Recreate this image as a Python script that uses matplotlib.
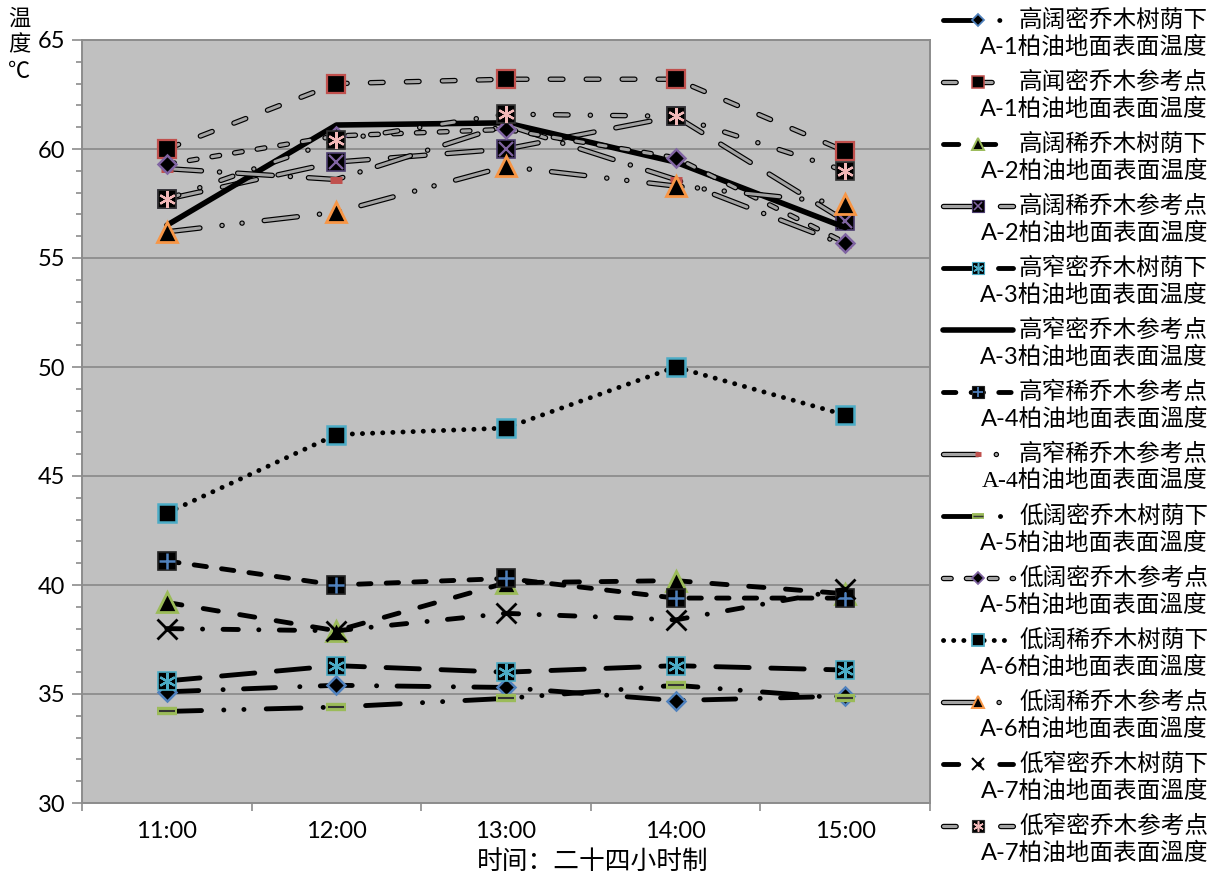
import matplotlib.pyplot as plt
import matplotlib.patheffects as pe
import numpy as np

plt.rcParams['font.family'] = ['Lato', 'Noto Sans CJK SC', 'DejaVu Sans']
plt.rcParams['lines.scale_dashes'] = False

hours = ['11:00', '12:00', '13:00', '14:00', '15:00']

# 各测点地面温度 (℃)
a1_shade = [35.1, 35.4, 35.3, 34.7, 34.9]
a1_ref = [60.0, 63.0, 63.2, 63.2, 59.9]
a2_shade = [39.2, 37.9, 40.1, 40.2, 39.6]
a2_ref = [57.7, 59.4, 60.0, 61.5, 56.7]
a3_shade = [35.6, 36.3, 36.0, 36.3, 36.1]
a3_ref = [56.5, 61.1, 61.2, 59.4, 56.4]
a4_shade = [41.1, 40.0, 40.3, 39.4, 39.4]
a4_ref = [59.1, 58.6, 61.1, 58.6, 55.6]
a5_shade = [34.2, 34.4, 34.8, 35.4, 34.8]
a5_ref = [59.3, 60.6, 60.9, 59.6, 55.7]
a6_shade = [43.3, 46.9, 47.2, 50.0, 47.8]
a6_ref = [56.2, 57.1, 59.2, 58.3, 57.5]
a7_shade = [38.0, 37.9, 38.7, 38.4, 39.8]
a7_ref = [57.7, 60.4, 61.6, 61.5, 59.0]

series = [a1_shade, a1_ref, a2_shade, a2_ref, a3_shade, a3_ref, a4_shade,
          a4_ref, a5_shade, a5_ref, a6_shade, a6_ref, a7_shade, a7_ref]

label_top = ['高阔密乔木树荫下', '高闻密乔木参考点', '高阔稀乔木树荫下', '高阔稀乔木参考点',
             '高窄密乔木树荫下', '高窄密乔木参考点', '高窄稀乔木参考点', '高窄稀乔木参考点',
             '低阔密乔木树荫下', '低阔密乔木参考点', '低阔稀乔木树荫下', '低阔稀乔木参考点',
             '低窄密乔木树荫下', '低窄密乔木参考点']
label_bottom = ['A-1柏油地面表面温度', 'A-1柏油地面表面温度', 'A-2柏油地面表面温度',
                'A-2柏油地面表面温度', 'A-3柏油地面表面温度', 'A-3柏油地面表面温度',
                'A-4柏油地面表面溫度', 'A-4柏油地面表面温度', 'A-5柏油地面表面溫度',
                'A-5柏油地面表面溫度', 'A-6柏油地面表面溫度', 'A-6柏油地面表面溫度',
                'A-7柏油地面表面溫度', 'A-7柏油地面表面溫度']

BLUE, RED, GREEN = '#4F81BD', '#C0504D', '#9BBB59'
PURPLE, AQUA, ORANGE, PINK = '#8064A2', '#4BACC6', '#F79646', '#F2B8B8'
ASTER = (6, 2, 0)

# 线型: kind, dashes (pt), marker layers (marker, size, face, edge, edge width)
styles = [
    ('black', [23, 17.5, 0.1, 14.7], [('D', 9.2, 'black', BLUE, 1.8)]),
    ('pill', [9.1, 16.8], [('s', 13, 'black', RED, 1.6)]),
    ('black', [11, 15.6], [('^', 15, 'black', GREEN, 2)]),
    ('pill', [25, 16], [('s', 13, 'black', '#4b3b6e', 1.2), ('x', 10, 'none', PURPLE, 1.6)]),
    ('black', [24, 15.6], [('s', 13, 'black', AQUA, 1.2), (ASTER, 12, 'none', AQUA, 1.6)]),
    ('solid', None, []),
    ('black', [8.9, 11], [('s', 13, 'black', '#222222', 1.2), ('+', 11, 'none', BLUE, 1.8)]),
    ('pill', [25, 13, 0.1, 13], [('_', 8, 'none', RED, 5)]),
    ('black', [25, 16, 0.1, 14.4, 0.1, 16], [('_', 14, 'none', GREEN, 6), ('_', 11, 'none', '#333333', 1.5)]),
    ('pill', [5.5, 11], [('D', 9.2, 'black', PURPLE, 1.8)]),
    ('black', [0.1, 7.2], [('s', 13, 'black', AQUA, 1.8)]),
    ('pill', [24, 16, 0.1, 14.4, 0.1, 16], [('^', 15, 'black', ORANGE, 2)]),
    ('black', [11, 14.7, 0.1, 14.7], [('x', 14, 'none', 'black', 2)]),
    ('pill', [9.1, 16, 0.1, 16], [('s', 13, 'black', '#333333', 1.2), (ASTER, 12, 'none', PINK, 1.6)]),
]


def draw_line(ax, x, y, kind, dashes, z):
    if kind == 'solid':
        ax.plot(x, y, color='black', lw=4, solid_capstyle='round', zorder=z)
    elif kind == 'black':
        ax.plot(x, y, color='black', lw=3.5, dashes=dashes,
                dash_capstyle='round', zorder=z)
    else:
        ax.plot(x, y, color='#A3A3A3', lw=2.2, dashes=dashes,
                dash_capstyle='round', zorder=z,
                path_effects=[pe.Stroke(linewidth=3.9, foreground='black'), pe.Normal()])


def draw_marks(ax, x, y, layers, z, scale=1.0, every=None):
    for m, size, face, edge, mew in layers:
        ax.plot(x, y, ls='none', marker=m, ms=size * scale, mfc=face, mec=edge,
                mew=mew * max(scale, 0.7), markevery=every, zorder=z + 0.5)


fig = plt.figure(figsize=(12.2, 8.83), dpi=100)
ax = fig.add_axes([82 / 1220, 80 / 883, 848 / 1220, 763 / 883])
ax.set_facecolor('#C0C0C0')

x = np.arange(len(hours))
for i, (vals, (kind, dashes, layers)) in enumerate(zip(series, styles)):
    z = 3 + i
    draw_line(ax, x, vals, kind, dashes, z)
    draw_marks(ax, x, vals, layers, z)

ax.set_xlim(-0.5, len(hours) - 0.5)
ax.set_ylim(30, 65)
ax.set_yticks(range(30, 66, 5))
ax.set_yticks(range(30, 66), minor=True)
ax.set_xticks(x)
ax.set_xticklabels(hours)
ax.set_xticks(np.arange(-0.5, len(hours)), minor=True)
ax.tick_params(axis='y', which='major', length=7, width=1.2, color='#8C8C8C',
               labelsize=17, pad=5)
ax.tick_params(axis='y', which='minor', length=4, width=1.2, color='#8C8C8C')
ax.tick_params(axis='x', which='major', length=0, labelsize=17, pad=13)
ax.tick_params(axis='x', which='minor', length=6, width=1.2, color='#8C8C8C')
ax.grid(axis='y', which='major', color='#888888', lw=1.2)
ax.set_axisbelow(True)
for sp in ax.spines.values():
    sp.set_color('#8C8C8C')
    sp.set_linewidth(1.4)

# 纵轴标题竖排
for k, ch in enumerate(['温', '度', '℃']):
    fig.text(19 / 1220, 1 - (18 + 27 * k) / 883, ch, ha='center', va='center',
             fontsize=16, family=['Noto Sans CJK SC'])
fig.text(593 / 1220, 1 - 862 / 883, '时间：二十四小时制', ha='center', va='center',
         fontsize=18.5, family=['Noto Sans CJK SC'])

# 图例
lax = fig.add_axes([930 / 1220, 0, 290 / 1220, 1])
lax.set_xlim(0, 290)
lax.set_ylim(883, 0)
lax.axis('off')
for i, (kind, dashes, layers) in enumerate(styles):
    y0 = 20 + 62 * i
    z = 3 + i
    draw_line(lax, [13, 48, 83], [y0] * 3, kind, dashes, z)
    draw_marks(lax, [13, 48, 83], [y0] * 3, layers, z, scale=0.62, every=[1])
    lax.text(278, y0, label_top[i], ha='right', va='center', fontsize=17)
    fam = ['Liberation Serif', 'Noto Sans CJK SC'] if i == 7 else ['Lato', 'Noto Sans CJK SC']
    lax.text(278, y0 + 27, label_bottom[i], ha='right', va='center', fontsize=17,
             family=fam)

fig.savefig('out.png', dpi=100)
